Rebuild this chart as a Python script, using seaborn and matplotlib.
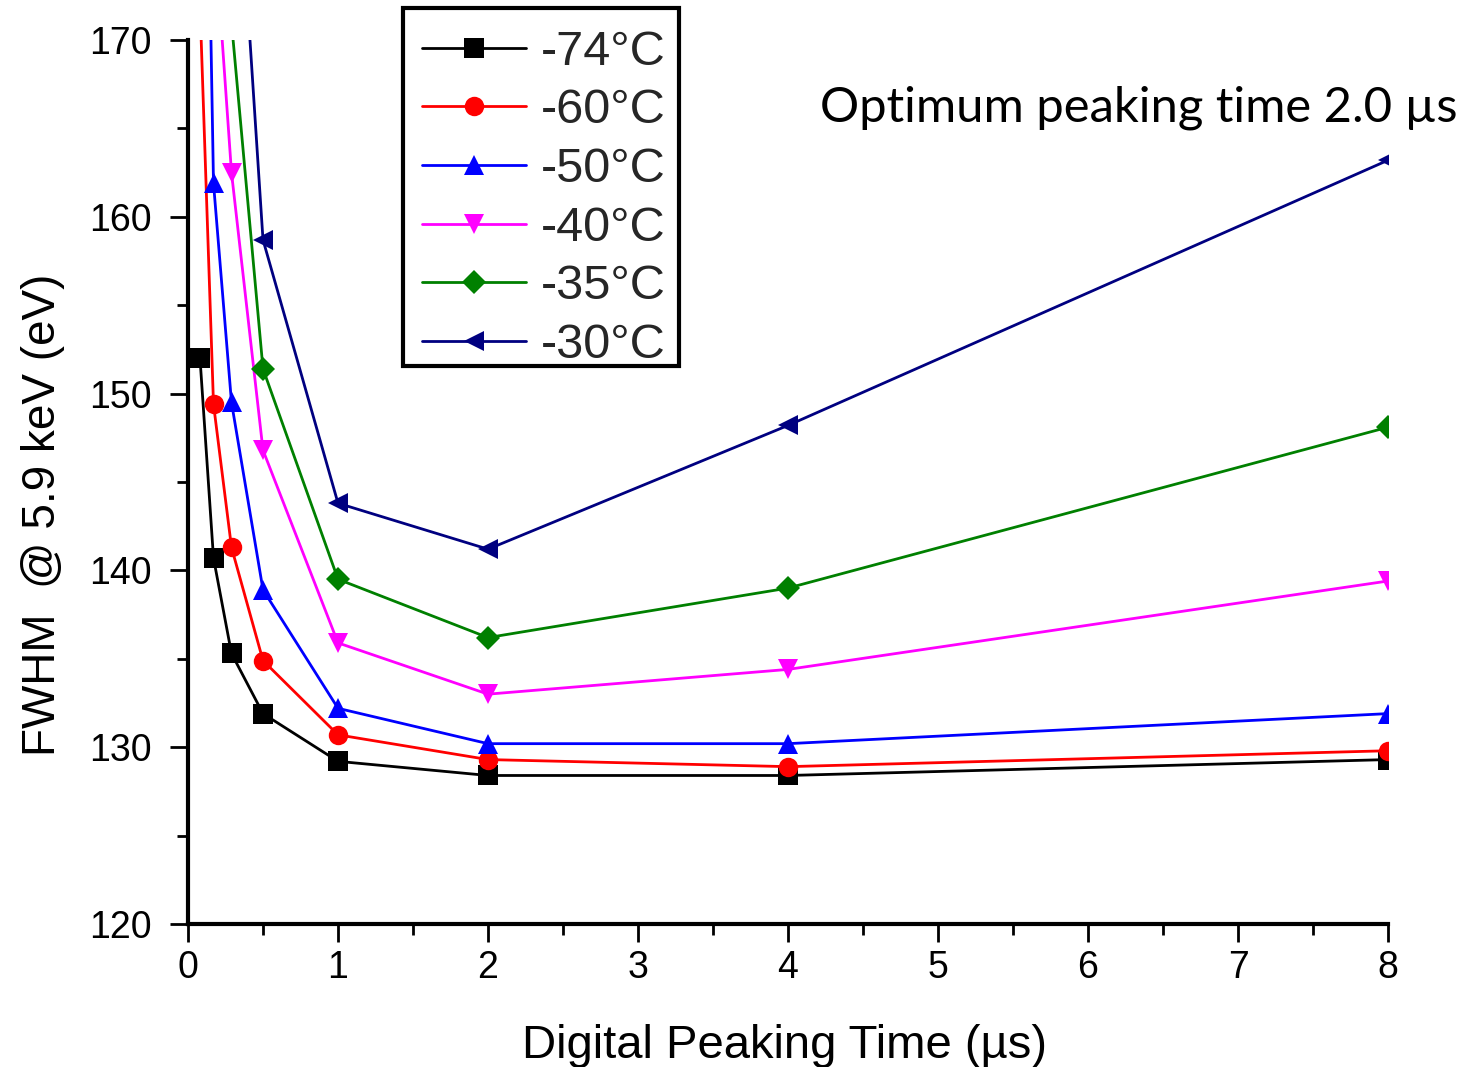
import numpy as np
import pandas as pd
import matplotlib
matplotlib.use("Agg")
import matplotlib.pyplot as plt
from matplotlib.ticker import MultipleLocator
from matplotlib.font_manager import FontProperties
from matplotlib.patches import Rectangle
import seaborn as sns

# ---- data ----
peaking_time = [0.08, 0.17, 0.29, 0.5, 1, 2, 4, 8]
fwhm_m74 = [152.0, 140.7, 135.3, 131.9, 129.2, 128.4, 128.4, 129.3]
fwhm_m60 = [172.0, 149.4, 141.3, 134.9, 130.7, 129.3, 128.9, 129.8]
fwhm_m50 = [205.0, 161.9, 149.5, 138.9, 132.2, 130.2, 130.2, 131.9]
fwhm_m40 = [np.nan, 177.0, 162.5, 146.8, 135.9, 133.0, 134.4, 139.4]
fwhm_m35 = [np.nan, np.nan, 171.0, 151.4, 139.5, 136.2, 139.0, 148.1]
fwhm_m30 = [np.nan, np.nan, 186.0, 158.7, 143.8, 141.2, 148.2, 163.2]
series_labels = ["-74°C", "-60°C", "-50°C", "-40°C", "-35°C", "-30°C"]
series_values = [fwhm_m74, fwhm_m60, fwhm_m50, fwhm_m40, fwhm_m35, fwhm_m30]

# ---- styles ----
series_colors = ["#000000", "#FF0000", "#0000FF", "#FF00FF", "#008000", "#000080"]
series_markers = ["s", "o", "^", "v", "D", "<"]
marker_sizes = [14, 14, 15, 15, 12, 15]

sns.set_theme(style="ticks")
plt.rcParams["font.family"] = ["Liberation Sans", "DejaVu Sans"]

W, H = 1466, 1067
fig = plt.figure(figsize=(W / 100, H / 100), dpi=100)
ax = fig.add_axes([188 / W, 1 - 924 / H, 1200 / W, 884 / H])

rows = []
for lab, vals in zip(series_labels, series_values):
    for t, v in zip(peaking_time, vals):
        if not np.isnan(v):
            rows.append({"time": t, "fwhm": v, "series": lab})
df = pd.DataFrame(rows)

for lab, col, mk, ms in zip(series_labels, series_colors, series_markers, marker_sizes):
    sub = df[df["series"] == lab]
    sns.lineplot(data=sub, x="time", y="fwhm", color=col, marker=mk,
                 markersize=ms, markeredgewidth=0, linewidth=2.0,
                 estimator=None, sort=False, label=lab, ax=ax)

ax.set_xlim(0, 8)
ax.set_ylim(120, 170)
ax.xaxis.set_major_locator(MultipleLocator(1))
ax.xaxis.set_minor_locator(MultipleLocator(0.5))
ax.yaxis.set_major_locator(MultipleLocator(10))
ax.yaxis.set_minor_locator(MultipleLocator(5))

sns.despine(ax=ax)
for s in ["left", "bottom"]:
    ax.spines[s].set_linewidth(3)
    ax.spines[s].set_color("black")

ax.tick_params(axis="both", which="major", direction="out", length=13, width=2,
               color="black", labelsize=27, labelcolor="black")
ax.tick_params(axis="both", which="minor", direction="out", length=8, width=2,
               color="black")
ax.tick_params(axis="y", which="major", pad=13)
ax.tick_params(axis="x", which="major", pad=6)

ax.set_xlabel("Digital Peaking Time (µs)", fontsize=34, color="black")
ax.xaxis.label.set_va("baseline")
ax.xaxis.set_label_coords((785 - 188) / 1200, (924 - 1058) / 884)

ax.set_ylabel("FWHM  @ 5.9 keV (eV)", fontsize=33, color="black")
ax.yaxis.label.set_va("baseline")
ax.yaxis.set_label_coords((55 - 188) / 1200, (924 - 515) / 884)

# legend frame (drawn as a box so its padding matches the reference)
frame = Rectangle((403 / W, 1 - 366 / H), 276 / W, 358 / H,
                  transform=fig.transFigure, facecolor="white", edgecolor="black",
                  linewidth=3, clip_on=False, zorder=4.5)
ax.add_patch(frame)

handles, labels = ax.get_legend_handles_labels()
leg = ax.legend(handles, labels, loc="upper left",
                bbox_to_anchor=(400 / W, 1 - 8 / H), bbox_transform=fig.transFigure,
                prop=FontProperties(family="Liberation Sans", size=35),
                frameon=False, borderpad=0.45, labelspacing=0.28, handlelength=2.15,
                handletextpad=0.3, borderaxespad=0, numpoints=1)
leg.set_zorder(5)

fig.text(820 / W, 1 - 122 / H, "Optimum peaking time 2.0 µs", fontsize=35.3,
         family=["Lato", "DejaVu Sans"], va="baseline", ha="left", color="black")

fig.savefig("out.png", dpi=100)
